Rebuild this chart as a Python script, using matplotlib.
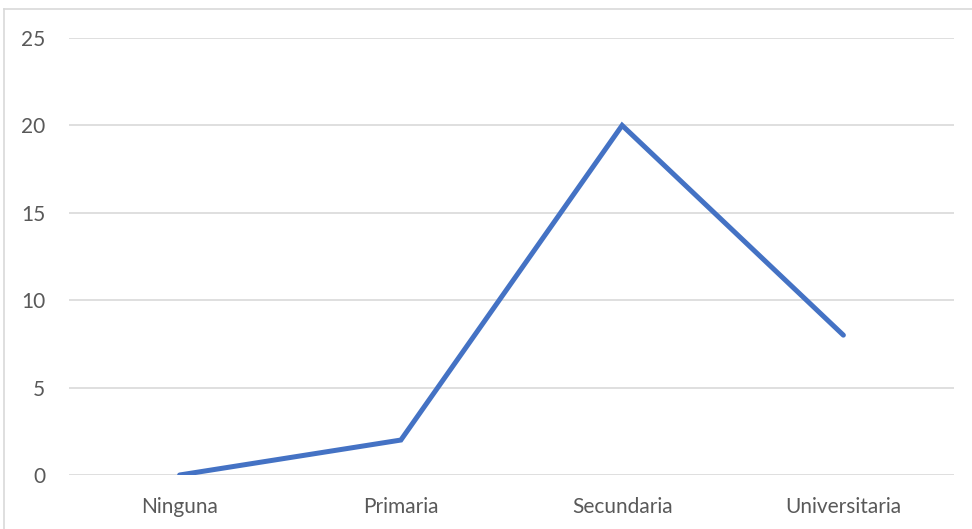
import matplotlib
matplotlib.use('Agg')
import matplotlib.pyplot as plt
from matplotlib.lines import Line2D

categories = ['Ninguna', 'Primaria', 'Secundaria', 'Universitaria']
values = [0, 2, 20, 8]
y_ticks = [0, 5, 10, 15, 20, 25]

plt.rcParams['font.family'] = ['Lato', 'DejaVu Sans']

fig = plt.figure(figsize=(9.72, 5.29), dpi=100)
ax = fig.add_axes([69 / 972, (529 - 475) / 529, (954 - 69) / 972, (475 - 38) / 529])

ax.plot(range(len(categories)), values, color='#4472C4', linewidth=3.6,
        solid_capstyle='round', solid_joinstyle='miter', zorder=3)

ax.set_xlim(-0.5, len(categories) - 0.5)
ax.set_ylim(0, 25)
ax.set_yticks(y_ticks)
ax.set_xticks(range(len(categories)))
ax.set_xticklabels(categories)
ax.yaxis.grid(True, color='#D9D9D9', linewidth=1.2)
ax.set_axisbelow(True)
for s in ax.spines.values():
    s.set_visible(False)
ax.tick_params(length=0, labelsize=15, colors='#595959')
ax.tick_params(axis='y', pad=17)
ax.tick_params(axis='x', pad=16)

# chart border (Excel-like)
fig.add_artist(Line2D([4 / 972, 1], [1 - 9 / 529, 1 - 9 / 529], color='#D9D9D9', linewidth=1.2))
fig.add_artist(Line2D([4 / 972, 4 / 972], [0, 1 - 9 / 529], color='#D9D9D9', linewidth=1.2))

fig.savefig('out.png', dpi=100)
